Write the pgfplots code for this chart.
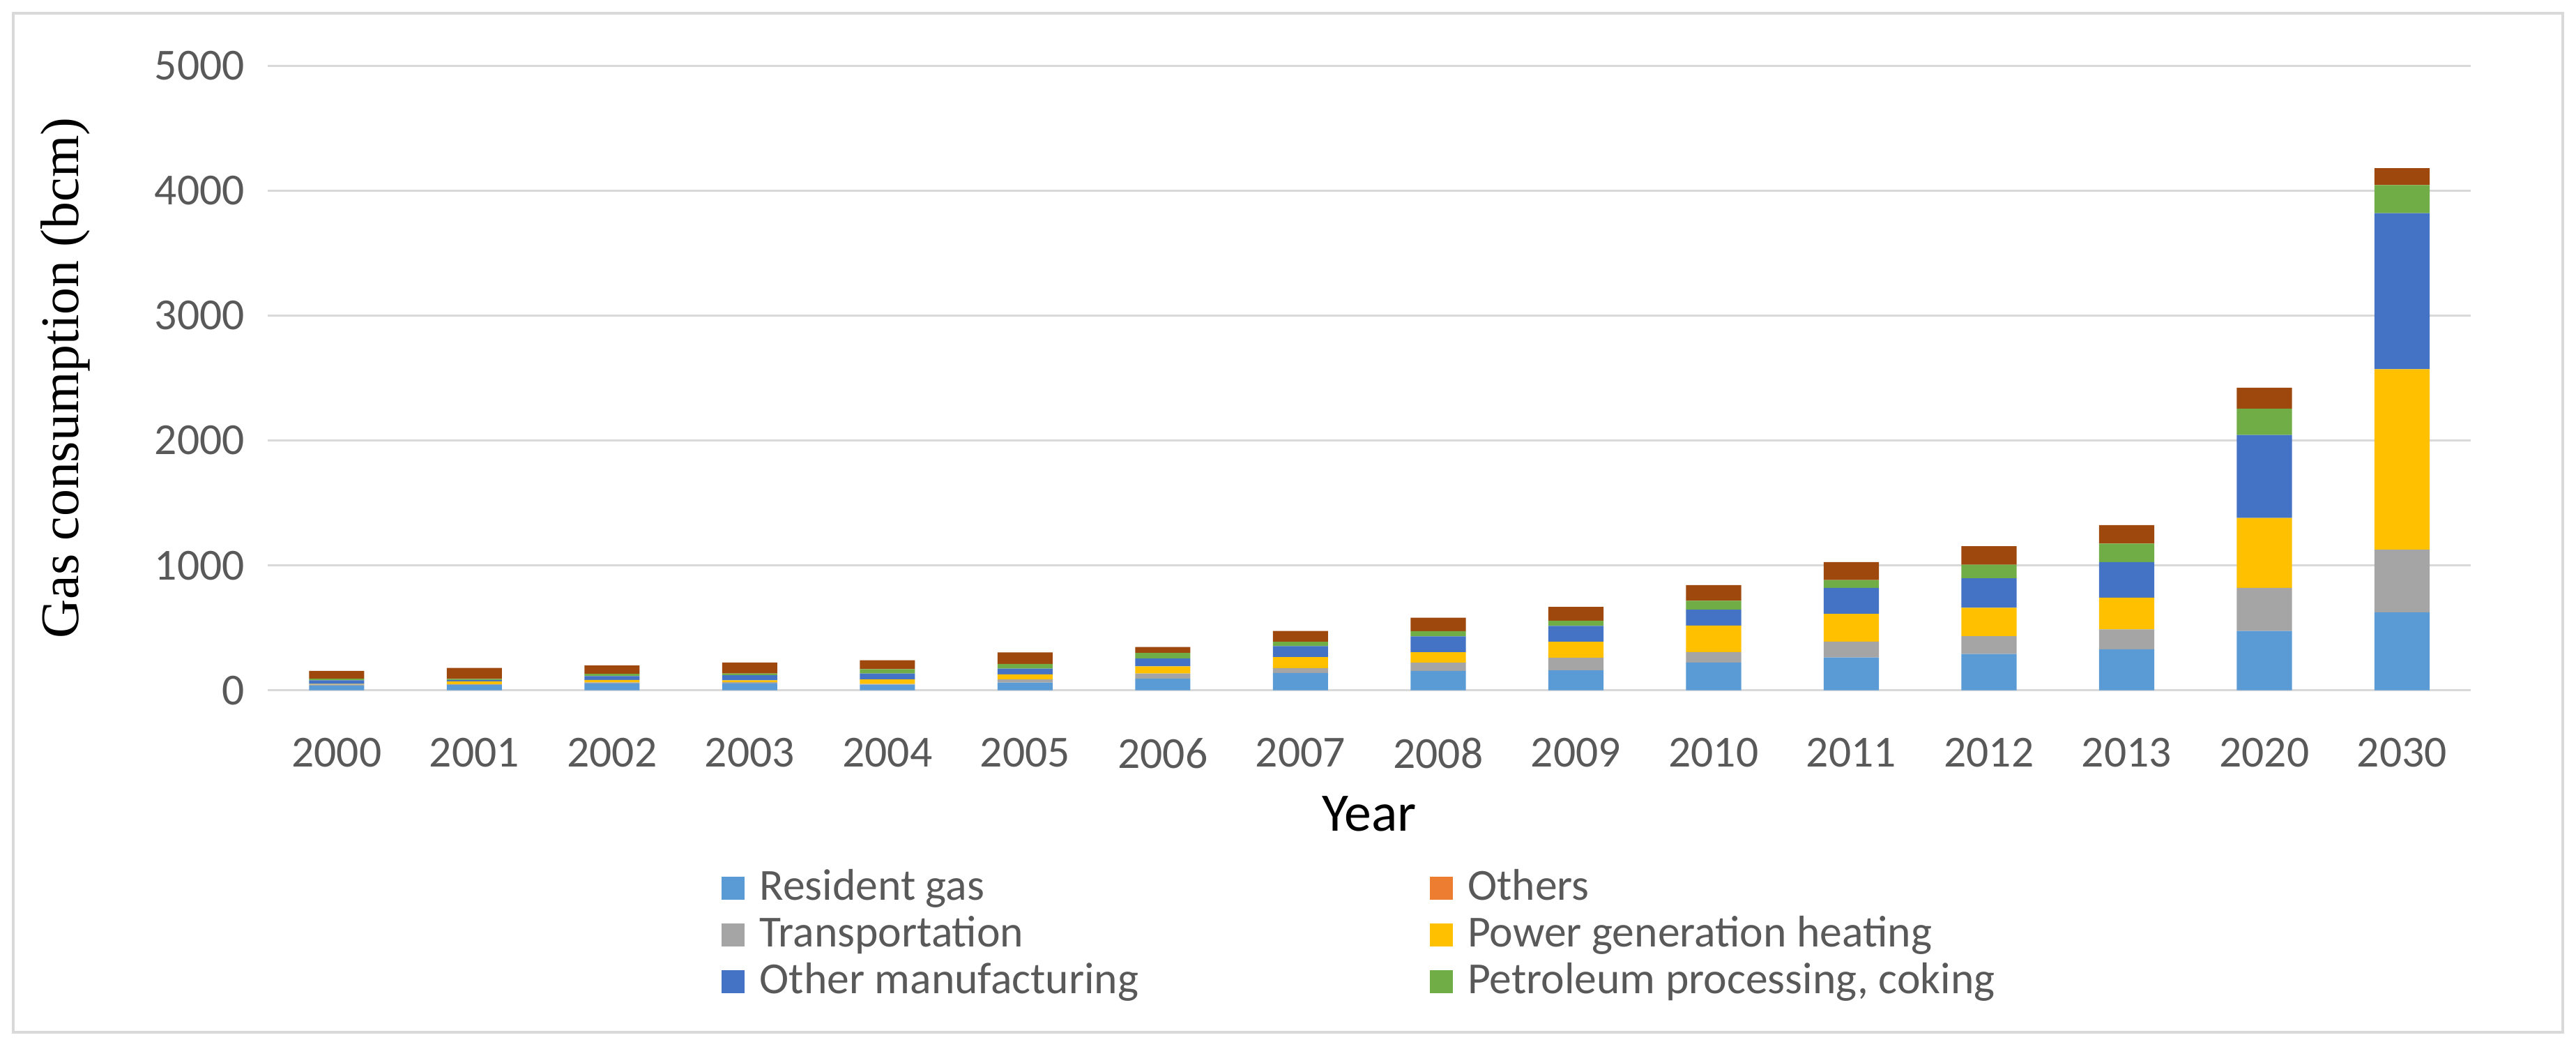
\documentclass[border=0pt]{standalone}
\usepackage{fontspec}
\setmainfont{Carlito}
\newfontfamily\serifont{Liberation Serif}
\usepackage{pgfplots}
\usepackage{pgfplotstable}
\pgfplotsset{compat=1.18}

\definecolor{resblue}{HTML}{5B9BD5}
\definecolor{othorange}{HTML}{ED7D31}
\definecolor{tragray}{HTML}{A5A5A5}
\definecolor{powgold}{HTML}{FFC000}
\definecolor{manblue}{HTML}{4472C4}
\definecolor{petgreen}{HTML}{70AD47}
\definecolor{brnbrown}{HTML}{9E480E}
\definecolor{gridgray}{HTML}{D9D9D9}
\definecolor{txtgray}{HTML}{595959}

% gas consumption by sector, bcm
\pgfplotstableread{
x  res oth tra  pow  man  pet brn
0  38  0   8    4    30   12  63
1  42  0   7    22   12   8   88
2  55  0   8    20   30   18  68
3  55  0   10   15   40   15  87
4  45  0   5    37   47   36  70
5  62  0   25   40   47   37  92
6  93  0   41   58   62   45  48
7  138 0   39   88   89   35  86
8  156 0   65   84   127  41  108
9  160 0   100  128  128  41  110
10 222 0   84   212  128  70  126
11 263 0   127  222  208  63  143
12 291 0   142  228  236  109 148
13 328 0   160  253  285  148 148
14 475 0   345  560  664  211 168
15 625 0   500  1445 1250 225 135
}\datatable

\begin{document}
\begin{tikzpicture}
\begin{axis}[
  name=ax,
  scale only axis, width=670.5pt, height=190pt,
  ybar stacked, bar width=16.8pt,
  xmin=-0.5, xmax=15.5, ymin=0, ymax=5000,
  xtick=data,
  xticklabels={2000,2001,2002,2003,2004,2005,2006,2007,2008,2009,2010,2011,2012,2013,2020,2030},
  ytick={0,1000,2000,3000,4000,5000},
  ymajorgrids, grid style={draw=gridgray, line width=0.7pt},
  axis line style={draw=none}, major tick length=0pt,
  /pgf/number format/assume math mode=true,
  /pgf/number format/1000 sep={},
  tick label style={font=\fontsize{13.5}{16}\selectfont, text=txtgray},
  xticklabel style={yshift=-11pt},
  yticklabel style={xshift=-3.5pt},
  xlabel={Year},
  xlabel style={at={([yshift=-37.5pt]axis description cs:0.5,0)}, anchor=center,
    font=\fontsize{16.5}{19}\selectfont, text=black},
  ylabel={Gas consumption (bcm)},
  ylabel style={at={([xshift=-61.5pt]axis description cs:0,0.5)}, anchor=center,
    font=\serifont\fontsize{16.5}{19}\selectfont, text=black},
  legend columns=2,
  legend image code/.code={\fill[#1] (0pt,-3.5pt) rectangle (7pt,3.5pt); \path (10.5pt,0pt);},
  legend style={at={(0,0)}, anchor=north west, xshift=138pt, yshift=-53pt,
    draw=none, fill=none, inner sep=0pt, row sep=0pt,
    font=\fontsize{13.5}{16}\selectfont, text=txtgray,
    nodes={inner sep=1pt, text height=9.7pt, text depth=2.5pt},
    /tikz/column 3/.style={column sep=0pt}},
  legend cell align=left,
]
\addplot[fill=resblue, draw=none] table[x=x, y=res] {\datatable};
\addlegendentry{\makebox[203pt][l]{Resident gas}}
\addplot[fill=othorange, draw=none] table[x=x, y=oth] {\datatable};
\addlegendentry{Others}
\addplot[fill=tragray, draw=none] table[x=x, y=tra] {\datatable};
\addlegendentry{\makebox[203pt][l]{Transportation}}
\addplot[fill=powgold, draw=none] table[x=x, y=pow] {\datatable};
\addlegendentry{Power generation heating}
\addplot[fill=manblue, draw=none] table[x=x, y=man] {\datatable};
\addlegendentry{\makebox[203pt][l]{Other manufacturing}}
\addplot[fill=petgreen, draw=none] table[x=x, y=pet] {\datatable};
\addlegendentry{Petroleum processing, coking}
\addplot[fill=brnbrown, draw=none] table[x=x, y=brn] {\datatable};
\end{axis}
\draw[gridgray, line width=0.8pt] ([xshift=-77.5pt,yshift=-104pt]ax.south west)
  rectangle ([xshift=28pt,yshift=16pt]ax.north east);
\pgfresetboundingbox
\useasboundingbox ([xshift=-81.5pt,yshift=-109pt]ax.south west)
  rectangle ([xshift=32pt,yshift=20pt]ax.north east);
\end{tikzpicture}
\end{document}
